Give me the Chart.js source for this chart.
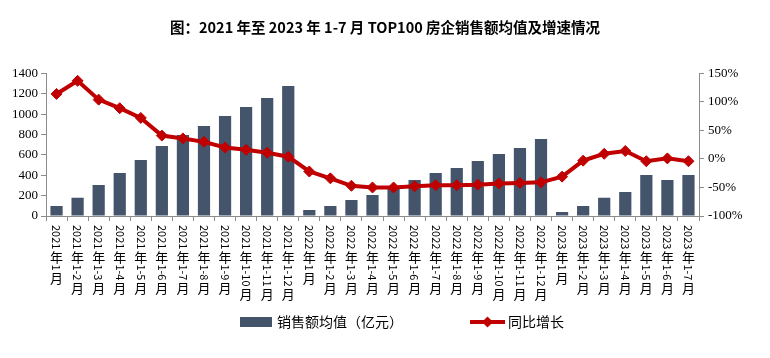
<!DOCTYPE html>
<html>
<head>
<meta charset="utf-8">
<script src="https://cdn.jsdelivr.net/npm/chart.js@4.4.1/dist/chart.umd.min.js"></script>
<style>
  body { margin: 0; background: #fff; }
  #wrap { width: 770px; height: 358px; position: relative; }
</style>
</head>
<body>
<div id="wrap"><canvas id="salesChart"></canvas></div>
<script>
// categories (cumulative months)
const categories = [
  '2021年1月', '2021年1-2月', '2021年1-3月', '2021年1-4月', '2021年1-5月', '2021年1-6月',
  '2021年1-7月', '2021年1-8月', '2021年1-9月', '2021年1-10月', '2021年1-11月', '2021年1-12月',
  '2022年1月', '2022年1-2月', '2022年1-3月', '2022年1-4月', '2022年1-5月', '2022年1-6月',
  '2022年1-7月', '2022年1-8月', '2022年1-9月', '2022年1-10月', '2022年1-11月', '2022年1-12月',
  '2023年1月', '2023年1-2月', '2023年1-3月', '2023年1-4月', '2023年1-5月', '2023年1-6月',
  '2023年1-7月'
];
// average sales (亿元)
const avgSales = [
  98, 180, 304, 422, 550, 687, 795, 883, 981, 1070, 1158, 1276,
  59, 98, 157, 206, 285, 353, 422, 471, 540, 608, 667, 756,
  39, 98, 180, 236, 402, 353, 402
];
// year-on-year growth (%)
const yoyGrowth = [
  114, 137, 104, 89, 72, 41, 36, 30, 20, 16, 11, 4,
  -22, -34, -47, -50, -50, -48, -46, -46, -45, -43, -42, -41,
  -31, -3, 9, 14, -4, 1, -4
];
const leftTicks = { min: 0, max: 1400, step: 200 };
const rightTicks = { min: -100, max: 150, step: 50 };

const BAR_COLOR = '#44546a';
const LINE_COLOR = '#c00000';
const AXIS_COLOR = '#8c8c8c';
const CJK = '"Noto Sans CJK SC", "Noto Sans", sans-serif';

// vertical x labels (digits rotated, CJK upright) + custom legend
const extras = {
  id: 'extras',
  afterDraw(chart) {
    const ctx = chart.ctx;
    const x = chart.scales.x;
    ctx.save();
    ctx.fillStyle = '#000';
    categories.forEach((lab, i) => {
      const cx = x.getPixelForValue(i);
      let y = x.top + 9;
      const runs = lab.match(/[0-9\-]+|[^0-9\-]/g);
      runs.forEach(r => {
        if (/[0-9]/.test(r)) {
          ctx.font = '11px ' + CJK;
          const w = ctx.measureText(r).width;
          ctx.save();
          ctx.translate(cx, y);
          ctx.rotate(Math.PI / 2);
          ctx.textAlign = 'left';
          ctx.textBaseline = 'middle';
          ctx.fillText(r, 0, 0);
          ctx.restore();
          y += w + 1;
        } else {
          ctx.font = '13px ' + CJK;
          ctx.textAlign = 'center';
          ctx.textBaseline = 'top';
          ctx.fillText(r, cx, y);
          y += 14;
        }
      });
    });

    // legend
    const ds = chart.data.datasets;
    const ly = 322;
    ctx.font = '14px ' + CJK;
    ctx.textAlign = 'left';
    ctx.textBaseline = 'middle';
    ctx.fillStyle = ds[1].backgroundColor;
    ctx.fillRect(240, ly - 5, 32, 10);
    ctx.fillStyle = '#000';
    ctx.fillText(ds[1].label, 277, ly);

    ctx.strokeStyle = ds[0].borderColor;
    ctx.lineWidth = 4;
    ctx.beginPath();
    ctx.moveTo(470, ly);
    ctx.lineTo(505, ly);
    ctx.stroke();
    ctx.fillStyle = ds[0].borderColor;
    ctx.beginPath();
    ctx.moveTo(487.5, ly - 5.5);
    ctx.lineTo(493, ly);
    ctx.lineTo(487.5, ly + 5.5);
    ctx.lineTo(482, ly);
    ctx.closePath();
    ctx.fill();
    ctx.fillStyle = '#000';
    ctx.fillText(ds[0].label, 508, ly);
    ctx.restore();
  }
};

new Chart(document.getElementById('salesChart'), {
  data: {
    labels: categories,
    datasets: [
      {
        type: 'line',
        label: '同比增长',
        data: yoyGrowth,
        yAxisID: 'y1',
        borderColor: LINE_COLOR,
        backgroundColor: LINE_COLOR,
        borderWidth: 4,
        pointStyle: 'rectRot',
        pointRadius: 5.5,
        pointBorderWidth: 1,
        tension: 0,
        order: 0
      },
      {
        type: 'bar',
        label: '销售额均值（亿元）',
        data: avgSales,
        yAxisID: 'y',
        backgroundColor: BAR_COLOR,
        categoryPercentage: 1,
        barPercentage: 0.58,
        order: 1
      }
    ]
  },
  options: {
    responsive: true,
    maintainAspectRatio: false,
    animation: false,
    layout: { padding: 0 },
    plugins: {
      legend: { display: false },
      tooltip: { enabled: false },
      title: {
        display: true,
        text: '图：2021 年至 2023 年 1-7 月 TOP100 房企销售额均值及增速情况',
        color: '#000',
        font: { family: CJK, size: 14.5, weight: 'bold' },
        padding: { top: 19, bottom: 37 }
      }
    },
    scales: {
      x: {
        offset: true,
        grid: { display: true, drawOnChartArea: false, drawTicks: true, tickLength: 5, offset: true, color: AXIS_COLOR },
        border: { display: true, color: AXIS_COLOR },
        ticks: { display: false },
        afterFit: s => { s.height = 142; }
      },
      y: {
        position: 'left',
        min: leftTicks.min,
        max: leftTicks.max,
        ticks: { stepSize: leftTicks.step, color: '#000', padding: 3, font: { family: '"Liberation Serif", serif', size: 13 }, callback: v => String(v) },
        grid: { display: true, drawOnChartArea: false, drawTicks: true, tickLength: 5, color: AXIS_COLOR },
        border: { display: true, color: AXIS_COLOR },
        afterFit: s => { s.width = 46; }
      },
      y1: {
        position: 'right',
        min: rightTicks.min,
        max: rightTicks.max,
        ticks: { stepSize: rightTicks.step, color: '#000', padding: 4, font: { family: '"Liberation Serif", serif', size: 13 }, callback: v => v + '%' },
        grid: { display: true, drawOnChartArea: false, drawTicks: true, tickLength: 5, color: AXIS_COLOR },
        border: { display: true, color: AXIS_COLOR },
        afterFit: s => { s.width = 71; }
      }
    }
  },
  plugins: [extras]
});
</script>
</body>
</html>
